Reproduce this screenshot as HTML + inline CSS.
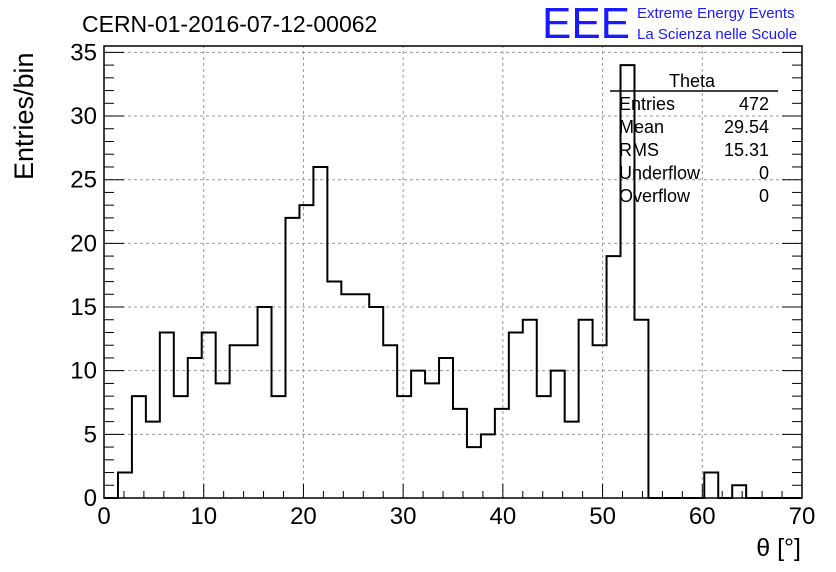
<!DOCTYPE html>
<html><head><meta charset="utf-8"><style>
body{margin:0;background:#fff;}
svg{display:block;font-family:"Liberation Sans",sans-serif;}
</style></head><body>
<svg id="chart" width="836" height="572" viewBox="0 0 836 572">
<text x="82" y="32" font-size="23">CERN-01-2016-07-12-00062</text>
<text x="542" y="38" font-size="44" fill="#1a1aff" textLength="88" lengthAdjust="spacingAndGlyphs">EEE</text>
<text x="637" y="18" font-size="15" fill="#1a1aff">Extreme Energy Events</text>
<text x="637" y="39" font-size="15" fill="#1a1aff">La Scienza nelle Scuole</text>
<g id="grid"></g>
<g id="ticks"></g>
<path id="hist" fill="none" stroke="#000" stroke-width="2"/>
<rect x="104" y="46" width="698" height="452" fill="none" stroke="#000" stroke-width="1.5"/>
<text x="33" y="180" font-size="27" transform="rotate(-90 33 180)" text-anchor="start">Entries/bin</text>
<text x="801" y="556" font-size="25" text-anchor="end">θ [°]</text>
<g font-size="18">
<text x="692" y="87" text-anchor="middle">Theta</text>
<line x1="610" y1="91" x2="778" y2="91" stroke="#000" stroke-width="1.5"/>
<text x="619" y="110">Entries</text><text x="769" y="110" text-anchor="end">472</text>
<text x="619" y="133">Mean</text><text x="769" y="133" text-anchor="end">29.54</text>
<text x="619" y="156">RMS</text><text x="769" y="156" text-anchor="end">15.31</text>
<text x="619" y="179">Underflow</text><text x="769" y="179" text-anchor="end">0</text>
<text x="619" y="202">Overflow</text><text x="769" y="202" text-anchor="end">0</text>
</g>
</svg>
<script>
const binWidth = 1.4;
const counts = [0,2,8,6,13,8,11,13,9,12,12,15,8,22,23,26,17,16,16,15,12,8,10,9,11,7,4,5,7,13,14,8,10,6,14,12,19,34,14,0,0,0,0,2,0,1,0,0,0,0];
const xTicks = [0,10,20,30,40,50,60,70];
const yTicks = [0,5,10,15,20,25,30,35];
const X0=104,X1=802,Y0=498,Y1=46;
const xs = v => X0 + v/70*(X1-X0);
const ys = v => Y0 - v/35.5*(Y0-Y1);
const NS="http://www.w3.org/2000/svg";
const grid=document.getElementById('grid'), ticks=document.getElementById('ticks');
function mk(tag,attrs,parent){const e=document.createElementNS(NS,tag);for(const k in attrs)e.setAttribute(k,attrs[k]);parent.appendChild(e);return e;}
xTicks.forEach(t=>{
  const x=xs(t);
  if(t>0&&t<70){const g=mk('line',{x1:x,y1:Y0,x2:x,y2:Y1,stroke:'#999','stroke-dasharray':'3,3'},grid);
  
  }
  mk('line',{x1:x,y1:Y0,x2:x,y2:Y0-14,stroke:'#000'},ticks);
  const l=mk('text',{x:x,y:Y0+26,'font-size':24,'text-anchor':'middle'},ticks);l.textContent=t;
  
  
});
for(let v=0;v<=70;v+=2){if(v%10)mk('line',{x1:xs(v),y1:Y0,x2:xs(v),y2:Y0-7,stroke:'#000'},ticks);}
yTicks.forEach(t=>{
  const y=ys(t);
  if(t>0){const g=mk('line',{x1:X0,y1:y,x2:X1,y2:y,stroke:'#999','stroke-dasharray':'3,3'},grid);
  
  }
  mk('line',{x1:X0,y1:y,x2:X0+20,y2:y,stroke:'#000'},ticks);
  mk('line',{x1:X1,y1:y,x2:X1-20,y2:y,stroke:'#000'},ticks);
  const l=mk('text',{x:X0-7,y:y+8,'font-size':24,'text-anchor':'end'},ticks);l.textContent=t;
  
  
});
for(let v=1;v<=35;v++){if(v%5){mk('line',{x1:X0,y1:ys(v),x2:X0+10,y2:ys(v),stroke:'#000'},ticks);mk('line',{x1:X1,y1:ys(v),x2:X1-10,y2:ys(v),stroke:'#000'},ticks);}}
let d='M'+xs(0)+','+ys(0);
counts.forEach((c,i)=>{d+=' L'+xs(i*binWidth)+','+ys(c)+' L'+xs((i+1)*binWidth)+','+ys(c);});
d+=' L'+xs(counts.length*binWidth)+','+ys(0);
document.getElementById('hist').setAttribute('d',d);
</script>
</body></html>
